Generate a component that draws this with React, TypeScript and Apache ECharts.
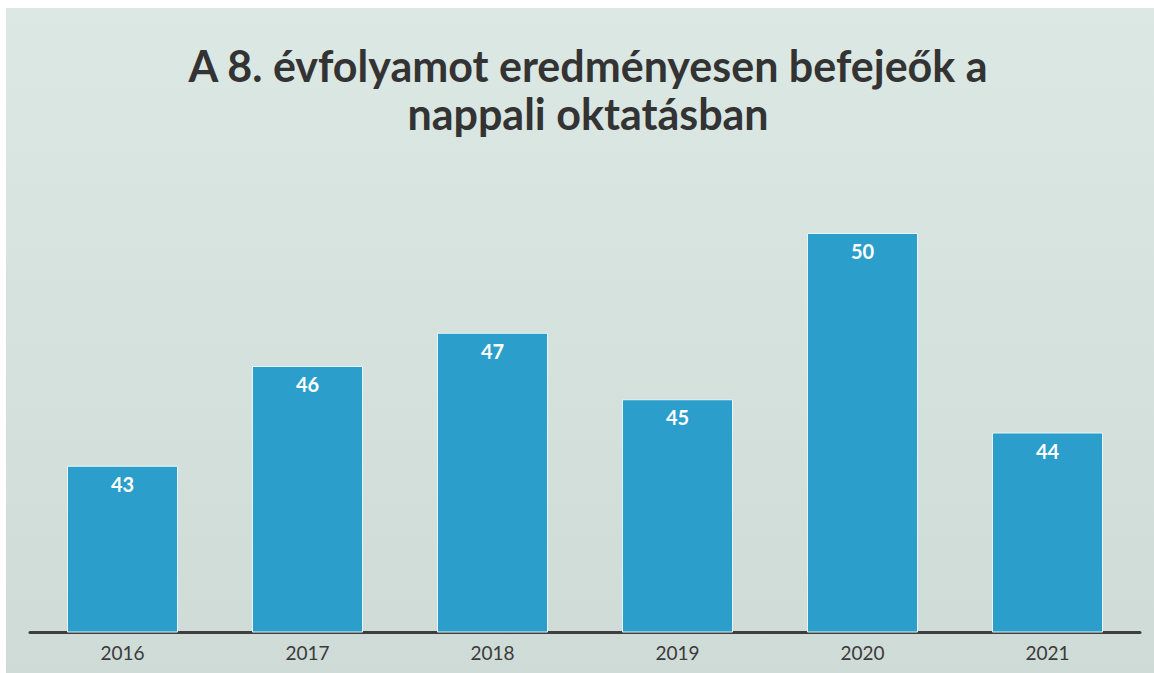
import React, { useEffect, useRef } from "react";
import * as echarts from "echarts";

const titleLines = ["A 8. évfolyamot eredményesen befejeők a", "nappali oktatásban"];
const years = ["2016", "2017", "2018", "2019", "2020", "2021"];
const graduates = [43, 46, 47, 45, 50, 44];

const FONT = "Lato, 'Noto Sans', sans-serif";

export default function App() {
  const ref = useRef<HTMLDivElement>(null);
  useEffect(() => {
    if (!ref.current) return;
    const chart = echarts.init(ref.current, undefined, { renderer: "svg" });
    chart.setOption({
      animation: false,
      backgroundColor: "#ffffff",
      graphic: [
        {
          type: "rect",
          z: -10,
          silent: true,
          shape: { x: 6, y: 8, width: 1148, height: 665 },
          style: {
            fill: new echarts.graphic.LinearGradient(0, 0, 0, 1, [
              { offset: 0, color: "#dce8e4" },
              { offset: 1, color: "#cfdbd7" },
            ]),
          },
        },
      ],
      title: {
        text: titleLines.join("\n"),
        left: 583,
        top: 36,
        textAlign: "center",
        textStyle: {
          fontFamily: FONT,
          fontSize: 43,
          fontWeight: "bold",
          lineHeight: 48,
          color: "#333333",
        },
      },
      grid: { left: 30, right: 14, top: 166.5, bottom: 41, containLabel: false },
      xAxis: {
        type: "category",
        data: years,
        axisLine: { show: true, lineStyle: { color: "#3e3e3e", width: 3 } },
        axisTick: { show: false },
        axisLabel: {
          fontFamily: FONT,
          fontSize: 19,
          color: "#3a3a3a",
          margin: 11,
        },
      },
      yAxis: {
        type: "value",
        min: 38,
        max: 52,
        show: false,
        splitLine: { show: false },
      },
      series: [
        {
          type: "bar",
          data: graduates,
          barWidth: 111,
          itemStyle: { color: "#2b9ecb", borderColor: "#e8f4f6", borderWidth: 1 },
          label: {
            show: true,
            position: "insideTop",
            distance: 8,
            color: "#ffffff",
            fontFamily: FONT,
            fontWeight: "bold",
            fontSize: 20,
          },
        },
      ],
    });
    return () => chart.dispose();
  }, []);
  return (
    <div
      ref={ref}
      style={{ position: "absolute", left: 0, top: 0, width: 1154, height: 673 }}
    />
  );
}
